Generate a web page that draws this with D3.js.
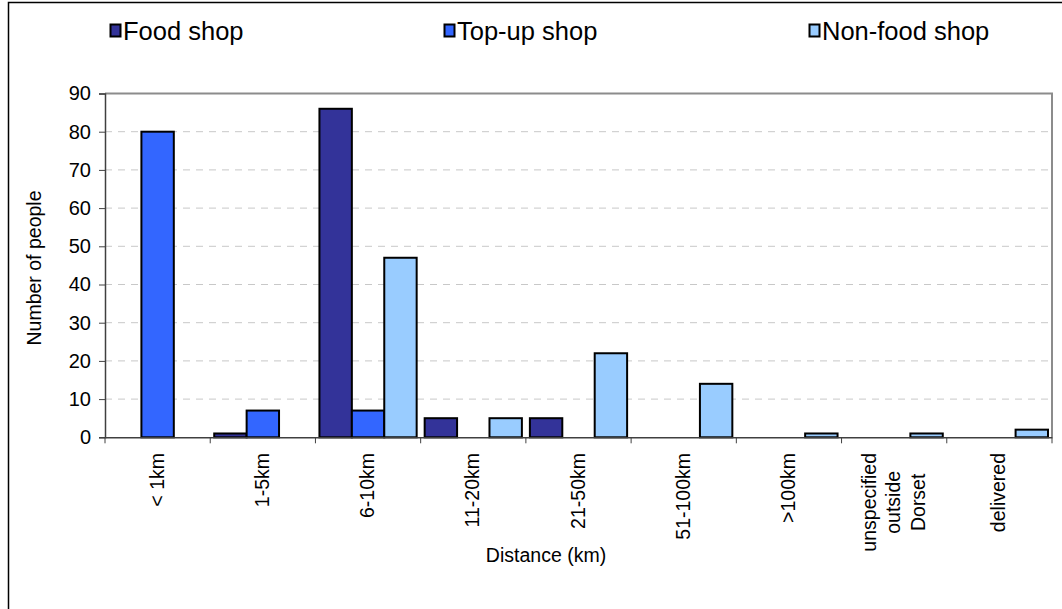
<!DOCTYPE html>
<html lang="en">
<head>
<meta charset="utf-8">
<title>Shop distance</title>
<script src="https://cdn.jsdelivr.net/npm/d3@7"></script>
<style>
  html, body { margin: 0; padding: 0; background: #fff; }
  svg { font-family: "Liberation Sans", Arial, sans-serif; display: block; }
</style>
</head>
<body>
<script>
// data
const categories = ["< 1km", "1-5km", "6-10km", "11-20km", "21-50km", "51-100km", ">100km", "unspecified\noutside\nDorset", "delivered"];
const seriesNames = ["Food shop", "Top-up shop", "Non-food shop"];
const foodShop    = [0, 1, 86, 5, 5, 0, 0, 0, 0];
const topUpShop   = [80, 7, 7, 0, 0, 0, 0, 0, 0];
const nonFoodShop = [0, 0, 47, 5, 22, 14, 1, 1, 2];
const yTicks = [0, 10, 20, 30, 40, 50, 60, 70, 80, 90];
const colours = ["#333399", "#3366ff", "#99ccff"];

const w = 1062, h = 609;
const plotLeft = 105, plotRight = 1052, plotTop = 93.5, plotBottom = 437.3;

const svg = d3.select("body").append("svg").attr("width", w).attr("height", h);

// outer frame (right and bottom run off the picture)
svg.append("rect")
  .attr("x", 8.5).attr("y", 2.5).attr("width", 1070).attr("height", 640)
  .attr("fill", "none").attr("stroke", "#000").attr("stroke-width", 1.5);

const x = d3.scaleBand().domain(categories).range([plotLeft, plotRight]).padding(0);
const xs = d3.scaleBand().domain(seriesNames).range([4, x.bandwidth() - 4]).padding(0);
const y = d3.scaleLinear().domain([0, 90]).range([plotBottom, plotTop]);

// grid
svg.append("g").selectAll("line")
  .data(yTicks.slice(1, -1))
  .join("line")
  .attr("x1", plotLeft).attr("x2", plotRight)
  .attr("y1", d => y(d)).attr("y2", d => y(d))
  .attr("stroke", "#c8c8c8").attr("stroke-width", 1)
  .attr("stroke-dasharray", "7,6");

// plot border top and right
svg.append("path")
  .attr("d", `M${plotLeft},${plotTop}H${plotRight}V${plotBottom}`)
  .attr("fill", "none").attr("stroke", "#8c8c8c").attr("stroke-width", 2);

// bars
const rows = categories.map((c, i) => ({
  cat: c,
  vals: [foodShop[i], topUpShop[i], nonFoodShop[i]]
}));

const groups = svg.append("g").selectAll("g")
  .data(rows)
  .join("g")
  .attr("transform", d => `translate(${x(d.cat)},0)`);

groups.selectAll("rect")
  .data(d => d.vals.map((v, j) => ({ name: seriesNames[j], v: v, j: j })).filter(e => e.v > 0))
  .join("rect")
  .attr("x", d => xs(d.name))
  .attr("width", xs.bandwidth())
  .attr("y", d => y(d.v))
  .attr("height", d => y(0) - y(d.v))
  .attr("fill", d => colours[d.j])
  .attr("stroke", "#000").attr("stroke-width", 2);

// axes
const yAxis = d3.axisLeft(y).tickValues(yTicks).tickSize(6).tickPadding(8);
const gy = svg.append("g").attr("transform", `translate(${plotLeft},0)`).call(yAxis);
gy.select(".domain").attr("stroke", "#404040").attr("stroke-width", 1.5);
gy.selectAll(".tick line").attr("stroke", "#404040");
gy.selectAll(".tick text").attr("font-size", 20).attr("fill", "#000")
  .attr("font-family", "'Liberation Sans', Arial, sans-serif");

const xAxis = d3.axisBottom(x).tickValues([]).tickSizeOuter(0);
const gx = svg.append("g").attr("transform", `translate(0,${plotBottom})`).call(xAxis);
gx.select(".domain").attr("stroke", "#404040").attr("stroke-width", 1.5);
gx.selectAll("line.sep")
  .data(d3.range(categories.length + 1))
  .join("line")
  .attr("class", "sep")
  .attr("x1", i => plotLeft + i * x.step()).attr("x2", i => plotLeft + i * x.step())
  .attr("y1", 0).attr("y2", 6)
  .attr("stroke", "#404040").attr("stroke-width", 1);

// category labels, rotated
const labelTop = 453, lineGap = 24.5;
categories.forEach(c => {
  const lines = c.split("\n");
  const cx = x(c) + x.bandwidth() / 2;
  const g = svg.append("g");
  const texts = lines.map(t => g.append("text")
    .attr("font-size", 19.5)
    .attr("text-anchor", "middle")
    .text(t));
  const maxLen = d3.max(texts, t => t.node().getComputedTextLength());
  const cy = labelTop + maxLen / 2;
  texts.forEach((t, k) => {
    const off = (k - (lines.length - 1) / 2) * lineGap;
    t.attr("transform", `translate(${cx + off + 6},${cy}) rotate(-90)`);
  });
});

// axis titles
svg.append("text")
  .attr("transform", `translate(41,268) rotate(-90)`)
  .attr("text-anchor", "middle")
  .attr("font-size", 19.5)
  .text("Number of people");

svg.append("text")
  .attr("x", 546).attr("y", 562)
  .attr("text-anchor", "middle")
  .attr("font-size", 19.5)
  .text("Distance (km)");

// legend
const legendX = [109, 443, 808];
const lg = svg.append("g").selectAll("g")
  .data(seriesNames)
  .join("g")
  .attr("transform", (d, i) => `translate(${legendX[i]},0)`);
lg.append("rect")
  .attr("x", 1.5).attr("y", 24.5).attr("width", 10).attr("height", 12)
  .attr("fill", (d, i) => colours[i])
  .attr("stroke", "#000").attr("stroke-width", 2);
lg.append("text")
  .attr("x", 14).attr("y", 40)
  .attr("font-size", 25.5)
  .text(d => d);
</script>
</body>
</html>
